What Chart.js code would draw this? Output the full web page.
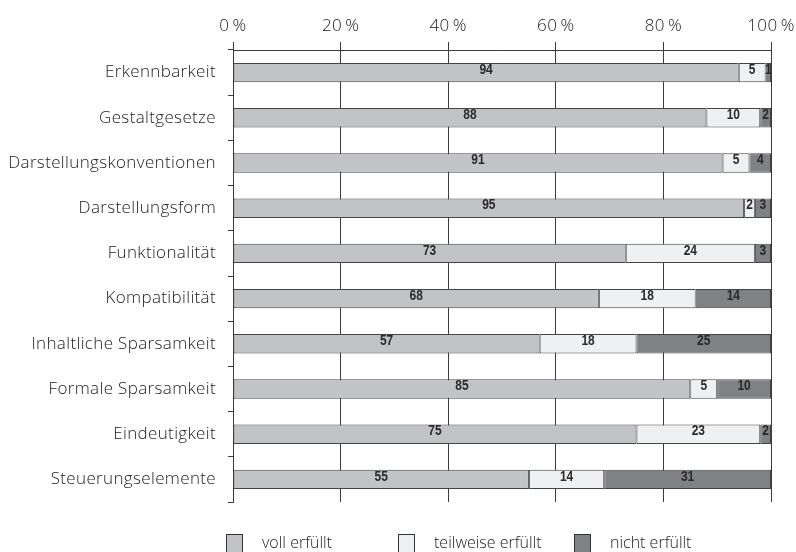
<!DOCTYPE html>
<html>
<head>
<meta charset="utf-8">
<script src="https://cdn.jsdelivr.net/npm/chart.js@4/dist/chart.umd.min.js"></script>
<style>
  html, body { margin: 0; padding: 0; background: #fff; }
  #wrap { position: relative; width: 796px; height: 552px; overflow: hidden; }
  #legend { position: absolute; left: 0; top: 534px; width: 796px; font: 300 16px 'Open Sans', 'Liberation Sans', Arial, sans-serif; color: #222; }
  .item { position: absolute; top: 0; white-space: nowrap; }
  .box { position: absolute; top: 0; width: 15px; height: 17px; border: 1px solid #333; }
  .txt { position: absolute; top: -2px; line-height: 20px; }
</style>
</head>
<body>
<div id="wrap">
  <canvas id="chart" width="796" height="552"></canvas>
  <div id="legend"></div>
</div>
<script>
const categories = [
  'Erkennbarkeit',
  'Gestaltgesetze',
  'Darstellungskonventionen',
  'Darstellungsform',
  'Funktionalität',
  'Kompatibilität',
  'Inhaltliche Sparsamkeit',
  'Formale Sparsamkeit',
  'Eindeutigkeit',
  'Steuerungselemente'
];
const seriesNames = ['voll erfüllt', 'teilweise erfüllt', 'nicht erfüllt'];
const vollErfuellt      = [94, 88, 91, 95, 73, 68, 57, 85, 75, 55];
const teilweiseErfuellt = [5, 10, 5, 2, 24, 18, 18, 5, 23, 14];
const nichtErfuellt     = [1, 2, 4, 3, 3, 14, 25, 10, 2, 31];
const tickValues = [0, 20, 40, 60, 80, 100];

const colors = ['#c1c3c7', '#eff0f1', '#808184'];
const labelFont = { family: "'Open Sans', 'Liberation Sans', Arial, sans-serif", size: 17, weight: '300' };

// etwas weitere Laufweite fuer die Achsenbeschriftung
const spacing = {
  id: 'spacing',
  beforeDraw(chart) { chart.ctx.letterSpacing = '0.35px'; }
};

// Werte mittig in die Balken schreiben (schmal gestaucht wie Arial Narrow)
const barLabels = {
  id: 'barLabels',
  afterDatasetsDraw(chart) {
    const ctx = chart.ctx;
    ctx.save();
    ctx.letterSpacing = '0px';
    ctx.font = "bold 15px 'Liberation Sans', Arial, sans-serif";
    ctx.fillStyle = '#2a2a2a';
    ctx.textAlign = 'center';
    ctx.textBaseline = 'middle';
    chart.data.datasets.forEach((ds, i) => {
      chart.getDatasetMeta(i).data.forEach((bar, j) => {
        const cx = (bar.x + bar.base) / 2;
        ctx.save();
        ctx.translate(cx, bar.y - 3);
        ctx.scale(0.8, 1);
        ctx.fillText(String(ds.data[j]), 0, 0);
        ctx.restore();
      });
    });
    ctx.restore();
  }
};

const seriesData = [vollErfuellt, teilweiseErfuellt, nichtErfuellt];

new Chart(document.getElementById('chart').getContext('2d'), {
  type: 'bar',
  data: {
    labels: categories,
    datasets: seriesNames.map((name, i) => ({
      label: name,
      data: seriesData[i],
      backgroundColor: colors[i],
      borderColor: '#444',
      borderWidth: 1,
      borderSkipped: false,
      barPercentage: 0.43,
      categoryPercentage: 1
    }))
  },
  options: {
    indexAxis: 'y',
    responsive: false,
    animation: false,
    layout: { padding: { left: 0, right: 25, top: 0, bottom: 50 } },
    plugins: {
      legend: { display: false },
      tooltip: { enabled: false }
    },
    scales: {
      x: {
        position: 'top',
        stacked: true,
        min: 0,
        max: 100,
        afterFit: s => { s.height = 50; s.paddingLeft = 0; s.paddingRight = 0; },
        afterBuildTicks: s => { s.ticks = tickValues.map(v => ({ value: v })); },
        grid: { color: '#3a3a3a', lineWidth: 1, tickLength: 8 },
        border: { display: true, color: '#3a3a3a', width: 1 },
        ticks: {
          padding: 6,
          color: '#222',
          font: labelFont,
          callback: v => v + '\u2009%'
        }
      },
      y: {
        stacked: true,
        afterFit: s => { s.width = 233; s.paddingTop = 0; s.paddingBottom = 0; },
        grid: { drawOnChartArea: false, offset: true, color: '#3a3a3a', tickLength: 5 },
        border: { display: true, color: '#3a3a3a', width: 1 },
        ticks: {
          padding: 12,
          color: '#222',
          font: labelFont
        }
      }
    }
  },
  plugins: [spacing, barLabels]
});

// Legende unten
const legend = document.getElementById('legend');
const legendX = [226, 398, 574];
seriesNames.forEach((name, i) => {
  const item = document.createElement('div');
  item.className = 'item';
  item.style.left = legendX[i] + 'px';
  item.innerHTML = `<div class="box" style="background:${colors[i]}"></div><div class="txt" style="left:36px">${name}</div>`;
  legend.appendChild(item);
});
</script>
</body>
</html>
